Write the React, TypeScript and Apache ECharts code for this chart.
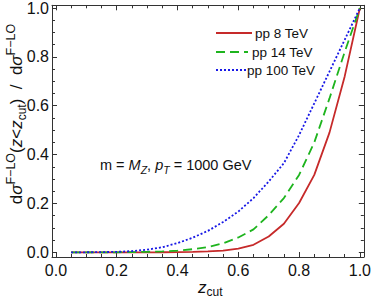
import React, { useEffect, useRef } from 'react';
import * as echarts from 'echarts';

// ---- data ----
const zcut = [0.05, 0.1, 0.15, 0.2, 0.25, 0.3, 0.35, 0.4, 0.45, 0.5, 0.55, 0.6, 0.65, 0.7, 0.75, 0.8, 0.85, 0.9, 0.95, 1.0];
const pp8 = [0, 0, 0, 0, 0, 0.0002, 0.0005, 0.001, 0.002, 0.004, 0.007, 0.015, 0.031, 0.065, 0.117, 0.202, 0.317, 0.49, 0.72, 1.0];
const pp14 = [0, 0, 0, 0.0003, 0.001, 0.002, 0.004, 0.007, 0.013, 0.022, 0.037, 0.061, 0.094, 0.152, 0.222, 0.317, 0.45, 0.63, 0.82, 1.0];
const pp100 = [0, 0.0003, 0.001, 0.002, 0.005, 0.011, 0.021, 0.038, 0.06, 0.088, 0.124, 0.167, 0.222, 0.29, 0.365, 0.48, 0.61, 0.74, 0.87, 1.0];
const seriesNames = ['pp 8 TeV', 'pp 14 TeV', 'pp 100 TeV'];
const majorTicks = [0, 0.2, 0.4, 0.6, 0.8, 1.0];
const minorTicks = [0, 0.05, 0.1, 0.15, 0.2, 0.25, 0.3, 0.35, 0.4, 0.45, 0.5, 0.55, 0.6, 0.65, 0.7, 0.75, 0.8, 0.85, 0.9, 0.95, 1.0];

const X_MIN = -0.013;
const X_MAX = 1.013;
const Y_MIN = -0.019;
const Y_MAX = 1.011;

const FONT = '"Liberation Sans", Arial, Helvetica, sans-serif';
const FRAME = '#333';
const RED = '#c62a2a';
const GREEN = '#1eb41e';
const BLUE = '#1818e6';

function makeAxis(kind: 'x' | 'y', position: string, ticks: number[], len: number, withLabels: boolean, withLine: boolean) {
  return {
    type: 'value',
    position,
    min: kind === 'x' ? X_MIN : Y_MIN,
    max: kind === 'x' ? X_MAX : Y_MAX,
    splitLine: { show: false },
    axisLine: { show: withLine, onZero: false, lineStyle: { color: FRAME, width: 1 } },
    axisTick: { show: true, inside: true, length: len, customValues: ticks, lineStyle: { color: FRAME, width: 1 } },
    axisLabel: withLabels
      ? {
          show: true,
          customValues: majorTicks,
          formatter: (v: number) => v.toFixed(1),
          fontSize: 16,
          fontFamily: FONT,
          color: '#111',
          margin: kind === 'x' ? 5 : 3,
        }
      : { show: false },
  };
}

export default function App() {
  const ref = useRef<HTMLDivElement>(null);
  useEffect(() => {
    document.body.style.margin = '0';
    const chart = echarts.init(ref.current!, null, { renderer: 'svg' });
    const option = {
      animation: false,
      backgroundColor: '#fff',
      grid: { left: 52, right: 6, top: 5, bottom: 41, containLabel: false },
      xAxis: [
        makeAxis('x', 'bottom', majorTicks, 5, true, true),
        makeAxis('x', 'bottom', minorTicks, 3, false, false),
        makeAxis('x', 'top', majorTicks, 5, false, true),
        makeAxis('x', 'top', minorTicks, 3, false, false),
      ],
      yAxis: [
        makeAxis('y', 'left', majorTicks, 5, true, true),
        makeAxis('y', 'left', minorTicks, 3, false, false),
        makeAxis('y', 'right', majorTicks, 5, false, true),
        makeAxis('y', 'right', minorTicks, 3, false, false),
      ],
      series: [
        {
          name: seriesNames[0], type: 'line', xAxisIndex: 0, yAxisIndex: 0, symbol: 'none',
          data: zcut.map((x, i) => [x, pp8[i]]),
          lineStyle: { color: RED, width: 1.8, type: 'solid' },
        },
        {
          name: seriesNames[1], type: 'line', xAxisIndex: 0, yAxisIndex: 0, symbol: 'none',
          data: zcut.map((x, i) => [x, pp14[i]]),
          lineStyle: { color: GREEN, width: 1.8, type: [9, 5] },
        },
        {
          name: seriesNames[2], type: 'line', xAxisIndex: 0, yAxisIndex: 0, symbol: 'none',
          data: zcut.map((x, i) => [x, pp100[i]]),
          lineStyle: { color: BLUE, width: 1.8, type: [2, 2] },
        },
      ],
      graphic: [
        // legend
        { type: 'line', shape: { x1: 216, y1: 33, x2: 252, y2: 33 }, style: { stroke: RED, lineWidth: 1.8 } },
        { type: 'line', shape: { x1: 216, y1: 52, x2: 248, y2: 52 }, style: { stroke: GREEN, lineWidth: 1.8, lineDash: [9, 5] } },
        { type: 'line', shape: { x1: 216, y1: 70, x2: 246, y2: 70 }, style: { stroke: BLUE, lineWidth: 1.8, lineDash: [2, 2] } },
        { type: 'text', x: 255, y: 33, style: { text: seriesNames[0], fontSize: 13.5, fontFamily: FONT, fill: '#111', verticalAlign: 'middle' } },
        { type: 'text', x: 252, y: 52, style: { text: seriesNames[1], fontSize: 13.5, fontFamily: FONT, fill: '#111', verticalAlign: 'middle' } },
        { type: 'text', x: 247, y: 70, style: { text: seriesNames[2], fontSize: 13.5, fontFamily: FONT, fill: '#111', verticalAlign: 'middle' } },
        // annotation
        {
          type: 'text', x: 100, y: 165,
          style: {
            text: '{n|m = }{i|M}{s|Z}{n|, }{i|p}{s|T}{n| = 1000 GeV}',
            verticalAlign: 'middle',
            rich: {
              n: { fontSize: 14.5, lineHeight: 20, fontFamily: FONT, fill: '#111' },
              i: { fontSize: 14.5, lineHeight: 20, fontFamily: FONT, fontStyle: 'italic', fill: '#111' },
              s: { fontSize: 10.5, lineHeight: 13, fontFamily: FONT, fontStyle: 'italic', fill: '#111', verticalAlign: 'bottom' },
            },
          },
        },
        // x title
        {
          type: 'text', x: 198, y: 287,
          style: {
            text: '{i|z}{s|cut}',
            verticalAlign: 'middle',
            rich: {
              i: { fontSize: 17, lineHeight: 22, fontFamily: FONT, fontStyle: 'italic', fill: '#111' },
              s: { fontSize: 12, lineHeight: 14, fontFamily: FONT, fill: '#111', verticalAlign: 'bottom' },
            },
          },
        },
        // y title
        {
          type: 'text', x: 16, y: 114, rotation: Math.PI / 2,
          style: {
            text: '{m|d}{i|σ}{p|F−LO}{m|(}{i|z}{m|<}{i|z}{s|cut}{m|)  /  d}{i|σ}{p|F−LO}',
            align: 'center',
            verticalAlign: 'middle',
            rich: {
              m: { fontSize: 17, lineHeight: 24, fontFamily: FONT, fill: '#111' },
              i: { fontSize: 17, lineHeight: 24, fontFamily: FONT, fontStyle: 'italic', fill: '#111' },
              p: { fontSize: 12.5, lineHeight: 12, fontFamily: FONT, fill: '#111', verticalAlign: 'top' },
              s: { fontSize: 12, lineHeight: 16, fontFamily: FONT, fill: '#111', verticalAlign: 'bottom' },
            },
          },
        },
      ],
    };
    chart.setOption(option as any);
    return () => chart.dispose();
  }, []);
  return <div ref={ref} style={{ position: 'absolute', left: 0, top: 0, width: 374, height: 298 }} />;
}
